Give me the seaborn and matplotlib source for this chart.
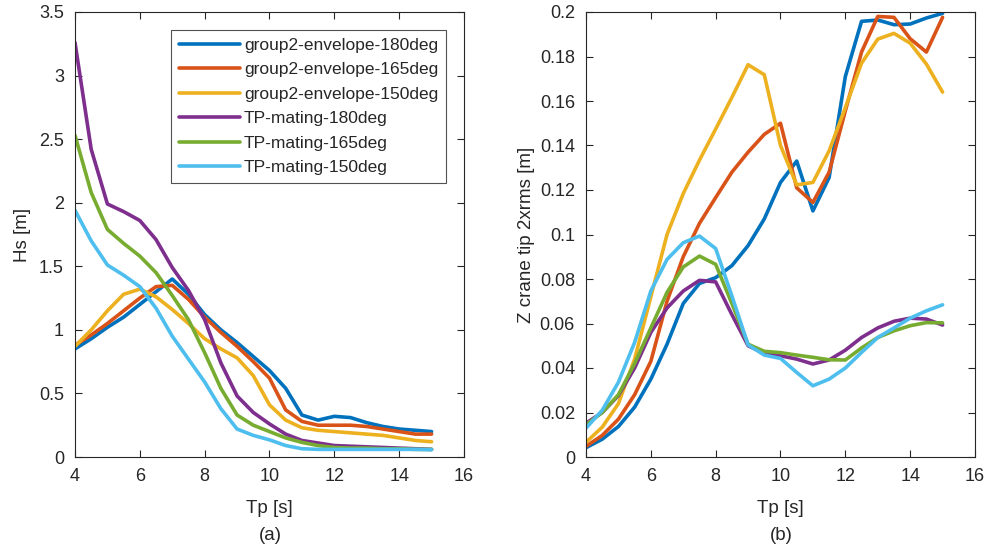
import numpy as np
import pandas as pd
import matplotlib
matplotlib.use("Agg")
import matplotlib.pyplot as plt
import seaborn as sns

tp = [4, 4.5, 5, 5.5, 6, 6.5, 7, 7.5, 8, 8.5, 9, 9.5, 10, 10.5, 11, 11.5, 12, 12.5, 13, 13.5, 14, 14.5, 15]
series_names = ["group2-envelope-180deg", "group2-envelope-165deg", "group2-envelope-150deg",
                "TP-mating-180deg", "TP-mating-165deg", "TP-mating-150deg"]

# (a) Hs [m]
hs_g2_180 = [0.85, 0.93, 1.02, 1.10, 1.20, 1.30, 1.40, 1.28, 1.12, 1.00, 0.90, 0.79, 0.68, 0.54, 0.33, 0.29, 0.32, 0.31, 0.27, 0.24, 0.22, 0.21, 0.20]
hs_g2_165 = [0.88, 0.96, 1.05, 1.15, 1.25, 1.34, 1.35, 1.24, 1.10, 0.98, 0.87, 0.75, 0.62, 0.37, 0.28, 0.25, 0.25, 0.25, 0.24, 0.22, 0.20, 0.18, 0.18]
hs_g2_150 = [0.87, 1.00, 1.15, 1.28, 1.32, 1.26, 1.16, 1.05, 0.93, 0.85, 0.78, 0.64, 0.41, 0.29, 0.23, 0.21, 0.20, 0.19, 0.18, 0.17, 0.15, 0.13, 0.12]
hs_tp_180 = [3.26, 2.42, 1.99, 1.93, 1.86, 1.71, 1.49, 1.31, 1.08, 0.74, 0.48, 0.35, 0.26, 0.18, 0.13, 0.11, 0.09, 0.085, 0.08, 0.075, 0.07, 0.065, 0.06]
hs_tp_165 = [2.53, 2.08, 1.79, 1.68, 1.58, 1.45, 1.27, 1.08, 0.82, 0.54, 0.33, 0.25, 0.20, 0.15, 0.115, 0.09, 0.075, 0.07, 0.07, 0.065, 0.065, 0.06, 0.06]
hs_tp_150 = [1.94, 1.70, 1.51, 1.43, 1.34, 1.17, 0.95, 0.77, 0.59, 0.38, 0.22, 0.17, 0.135, 0.09, 0.065, 0.06, 0.06, 0.06, 0.06, 0.06, 0.06, 0.06, 0.057]

# (b) Z crane tip 2xrms [m]
z_g2_180 = [0.0042, 0.008, 0.0137, 0.0224, 0.035, 0.0507, 0.069, 0.078, 0.0806, 0.086, 0.095, 0.107, 0.1234, 0.133, 0.1106, 0.1256, 0.171, 0.1958, 0.1964, 0.1943, 0.1946, 0.1973, 0.1994]
z_g2_165 = [0.0048, 0.0097, 0.017, 0.028, 0.043, 0.070, 0.090, 0.105, 0.1166, 0.128, 0.137, 0.145, 0.150, 0.121, 0.1144, 0.128, 0.1556, 0.182, 0.198, 0.1976, 0.188, 0.182, 0.1976]
z_g2_150 = [0.0066, 0.0134, 0.024, 0.044, 0.072, 0.100, 0.1184, 0.1334, 0.1474, 0.1616, 0.1763, 0.1718, 0.140, 0.1223, 0.1234, 0.1376, 0.157, 0.177, 0.1878, 0.1904, 0.186, 0.1766, 0.164]
z_tp_180 = [0.0152, 0.020, 0.0276, 0.040, 0.056, 0.067, 0.0746, 0.0794, 0.0787, 0.064, 0.050, 0.0466, 0.0455, 0.044, 0.0418, 0.0436, 0.048, 0.0537, 0.058, 0.061, 0.0624, 0.062, 0.0593]
z_tp_165 = [0.0145, 0.020, 0.028, 0.042, 0.058, 0.074, 0.0854, 0.0903, 0.0866, 0.069, 0.0507, 0.0475, 0.0469, 0.0458, 0.0448, 0.0437, 0.0436, 0.049, 0.0537, 0.0567, 0.059, 0.0604, 0.0603]
z_tp_150 = [0.013, 0.021, 0.0336, 0.0515, 0.0746, 0.0888, 0.0963, 0.0993, 0.0937, 0.0724, 0.0504, 0.0458, 0.0443, 0.038, 0.032, 0.035, 0.040, 0.047, 0.0537, 0.058, 0.0624, 0.0657, 0.0684]

colors = ["#0072BD", "#D95319", "#EDB120", "#7E2F8E", "#77AC30", "#4DBEEE"]

def long_df(arrs):
    rows = []
    for name, arr in zip(series_names, arrs):
        for x, y in zip(tp, arr):
            rows.append((name, x, y))
    return pd.DataFrame(rows, columns=["series", "Tp", "val"])

df_a = long_df([hs_g2_180, hs_g2_165, hs_g2_150, hs_tp_180, hs_tp_165, hs_tp_150])
df_b = long_df([z_g2_180, z_g2_165, z_g2_150, z_tp_180, z_tp_165, z_tp_150])

sns.set_theme(style="ticks")
plt.rcParams['font.family'] = ['Liberation Sans', 'DejaVu Sans']
plt.rcParams['axes.edgecolor'] = '#262626'
plt.rcParams['axes.linewidth'] = 0.8

fig = plt.figure(figsize=(9.87, 5.5), dpi=100)
ax1 = fig.add_axes([75/987, 93/550, 389/987, 445/550])
ax2 = fig.add_axes([586/987, 93/550, 389/987, 445/550])

palette = dict(zip(series_names, colors))
sns.lineplot(data=df_a, x="Tp", y="val", hue="series", hue_order=series_names,
             palette=palette, linewidth=2.6, ax=ax1, legend=True)
sns.lineplot(data=df_b, x="Tp", y="val", hue="series", hue_order=series_names,
             palette=palette, linewidth=2.6, ax=ax2, legend=False)

txtc = "#262626"
for ax in (ax1, ax2):
    ax.set_xlim(4, 16)
    ax.set_xticks([4, 6, 8, 10, 12, 14, 16])
    ax.tick_params(direction="in", top=True, right=True, length=5, width=0.8,
                   labelsize=13, colors=txtc, pad=8)
    for s in ax.spines.values():
        s.set_visible(True)
        s.set_color(txtc)
    ax.set_xlabel("Tp [s]", fontsize=13.5, color=txtc, va="center", ha="center")
    ax.xaxis.set_label_coords(0.5, -0.115)

ax1.set_ylim(0, 3.5)
ax1.set_yticks([0, 0.5, 1, 1.5, 2, 2.5, 3, 3.5])
ax1.set_yticklabels(["0", "0.5", "1", "1.5", "2", "2.5", "3", "3.5"])
ax1.set_ylabel("Hs [m]", fontsize=13.5, color=txtc, va="center", ha="center")
ax1.yaxis.set_label_coords(-0.136, 0.5)

ax2.set_ylim(0, 0.2)
yt = [0, 0.02, 0.04, 0.06, 0.08, 0.1, 0.12, 0.14, 0.16, 0.18, 0.2]
ax2.set_yticks(yt)
ax2.set_yticklabels(["0", "0.02", "0.04", "0.06", "0.08", "0.1", "0.12", "0.14", "0.16", "0.18", "0.2"])
ax2.set_ylabel("Z crane tip 2xrms [m]", fontsize=13.5, color=txtc, va="center", ha="center")
ax2.yaxis.set_label_coords(-0.152, 0.5)

leg = ax1.legend(loc="upper right", bbox_to_anchor=(0.954, 0.96), borderaxespad=0,
                 fontsize=12.5, frameon=True, fancybox=False, edgecolor=txtc,
                 handlelength=3.5, borderpad=0.45, labelspacing=0.54, handletextpad=0.25)
leg.get_frame().set_linewidth(0.8)
for line in leg.get_lines():
    line.set_linewidth(2.6)

fig.text(270/987, 1 - 535/550, "(a)", ha="center", va="center", fontsize=13.5, color=txtc)
fig.text(781/987, 1 - 535/550, "(b)", ha="center", va="center", fontsize=13.5, color=txtc)

fig.savefig("out.png", dpi=100)
